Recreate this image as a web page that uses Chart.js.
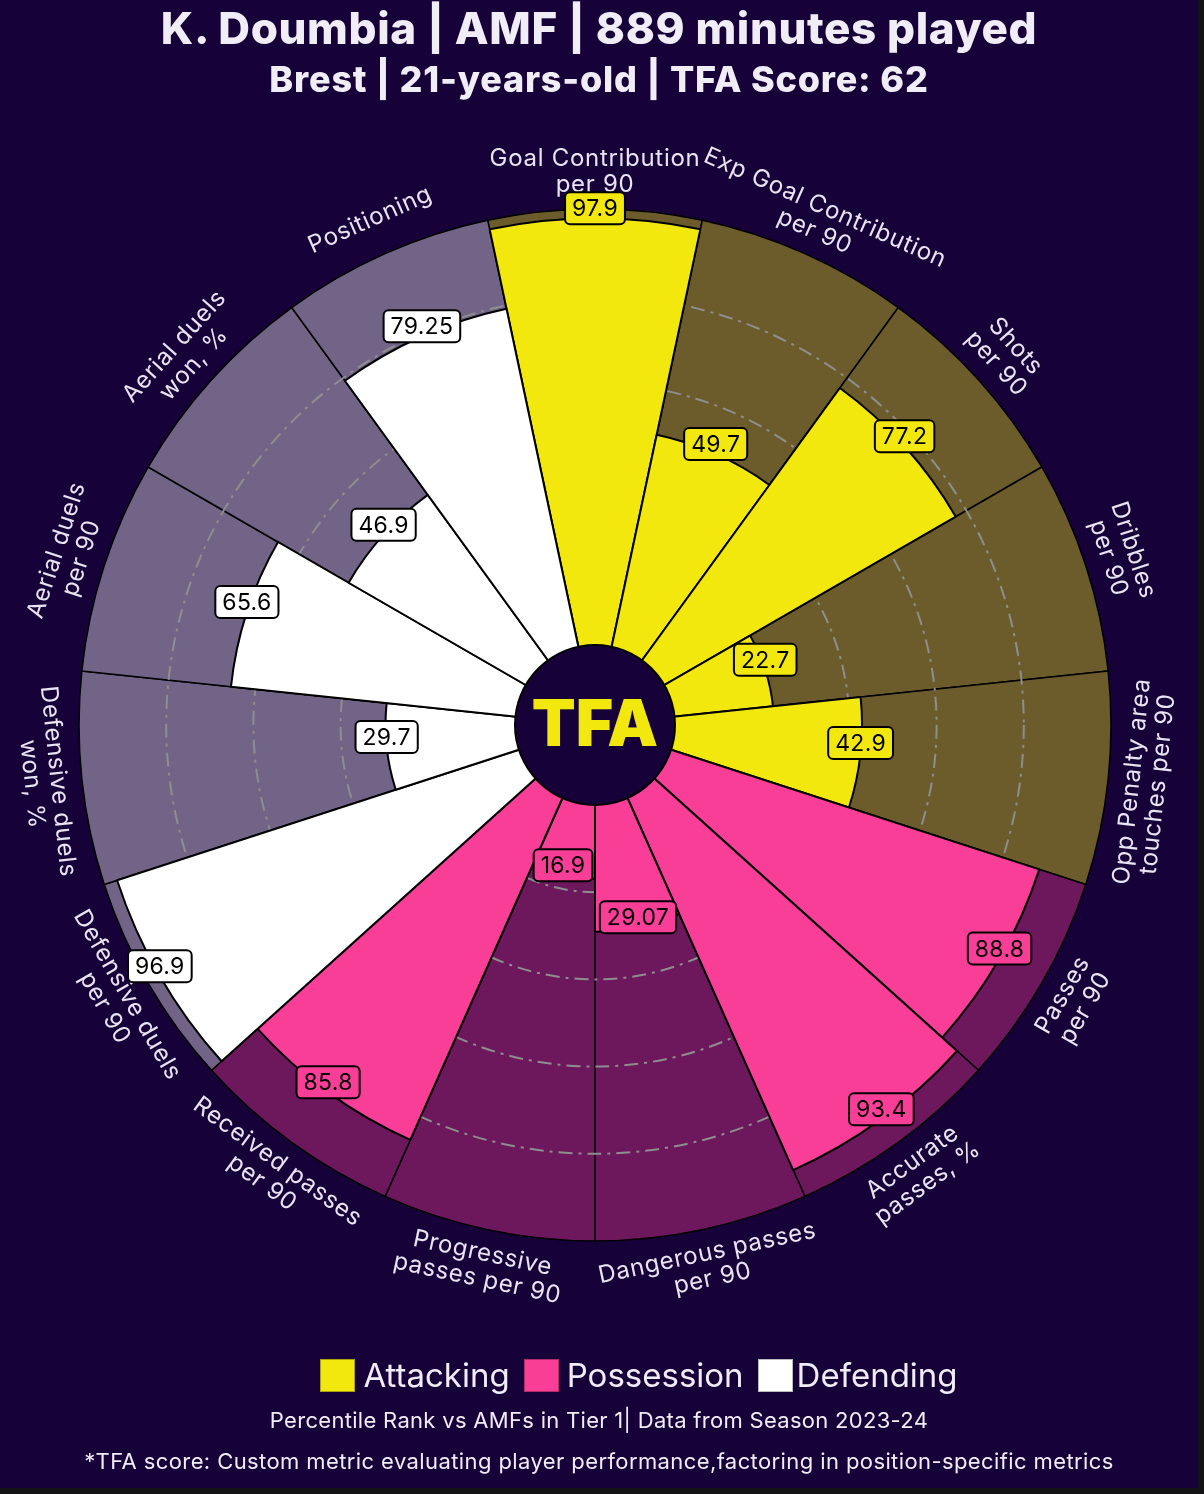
<!DOCTYPE html>
<html>
<head>
<meta charset="utf-8">
<script src="https://cdn.jsdelivr.net/npm/chart.js@4.4.1/dist/chart.umd.min.js"></script>
<style>
  body { margin: 0; background: #131316; }
  #page { position: relative; width: 1198px; height: 1488px; background: #170139; overflow: hidden;
          font-family: Inter, "Noto Sans", sans-serif; color: #f1edf6; }
  #pizza { position: absolute; left: 0; top: 0; }
  .t { position: absolute; left: 0; width: 1198px; text-align: center; white-space: nowrap; }
  #title1 { top: 0px; font-size: 44px; line-height: 56px; font-weight: 800; letter-spacing: 0.6px; }
  #title2 { top: 56px; font-size: 36px; line-height: 46px; font-weight: 800; letter-spacing: 0.8px; }
  #legend { top: 1354px; left: 33px; display: flex; justify-content: center; align-items: center; font-size: 33px; line-height: 42px; }
  #legend .sq { width: 35px; height: 33px; display: inline-block; margin: 0 8px 0 14px; box-sizing: border-box; }
  #foot1 { top: 1405px; font-size: 22px; line-height: 30px; letter-spacing: 0.3px; }
  #foot2 { top: 1446px; font-size: 22px; line-height: 30px; letter-spacing: 0.4px; }
</style>
</head>
<body>
<div id="page">
  <canvas id="pizza" width="1198" height="1488"></canvas>
  <div class="t" id="title1">K. Doumbia | AMF | 889 minutes played</div>
  <div class="t" id="title2">Brest | 21-years-old | TFA Score: 62</div>
  <div class="t" id="legend">
    <span class="sq" style="background:#f2e80d;border:1px solid #a9a20a"></span><span>Attacking</span>
    <span class="sq" style="background:#f93e98;border:1px solid #b02c6b"></span><span>Possession</span>
    <span class="sq" style="background:#ffffff;border:1px solid #bbbbbb;margin-right:4px"></span><span>Defending</span>
  </div>
  <div class="t" id="foot1">Percentile Rank vs AMFs in Tier 1| Data from Season 2023-24</div>
  <div class="t" id="foot2">*TFA score: Custom metric evaluating player performance,factoring in position-specific metrics</div>
</div>
<script>
// metric names, clockwise from the top
const params = [
  "Goal Contribution\nper 90",
  "Exp Goal Contribution\nper 90",
  "Shots\nper 90",
  "Dribbles\nper 90",
  "Opp Penalty area\ntouches per 90",
  "Passes\nper 90",
  "Accurate\npasses, %",
  "Dangerous passes\nper 90",
  "Progressive\npasses per 90",
  "Received passes\nper 90",
  "Defensive duels\nper 90",
  "Defensive duels\nwon, %",
  "Aerial duels\nper 90",
  "Aerial duels\nwon, %",
  "Positioning"
];
const percentiles = [97.9, 49.7, 77.2, 22.7, 42.9, 88.8, 93.4, 29.07, 16.9, 85.8, 96.9, 29.7, 65.6, 46.9, 79.25];
const groups = ["att", "att", "att", "att", "att", "pos", "pos", "pos", "pos", "pos", "def", "def", "def", "def", "def"];
const fullRange = params.map(() => 100);
const gridSteps = [20, 40, 60, 80];

const sliceColor = { att: "#f2e80d", pos: "#f93e98", def: "#ffffff" };
const backColor = { att: "#6c5b2b", pos: "#6d185c", def: "#726487" };
const pageBg = "#170139";

// inner hole of 80px on a 516px radius -> shift the scale minimum
const holeMin = -100 * 80 / 436;
const sliceDeg = 360 / params.length;

function labelRotation(deg) {
  if (deg > 90 && deg < 270) return deg - 180;
  if (deg >= 270) return deg - 360;
  return deg;
}

function roundBox(ctx, x, y, w, h, rad) {
  ctx.beginPath();
  ctx.moveTo(x + rad, y);
  ctx.arcTo(x + w, y, x + w, y + h, rad);
  ctx.arcTo(x + w, y + h, x, y + h, rad);
  ctx.arcTo(x, y + h, x, y, rad);
  ctx.arcTo(x, y, x + w, y, rad);
  ctx.closePath();
}

const pizzaDecor = {
  id: "pizzaDecor",
  afterDatasetDraw(chart, args) {
    // dash-dot rings sit on the background slices, under the value slices
    if (args.index !== 1) return;
    const r = chart.scales.r;
    const ctx = chart.ctx;
    ctx.save();
    ctx.strokeStyle = "#8e8e8e";
    ctx.lineWidth = 2;
    ctx.setLineDash([14, 6, 3, 6]);
    gridSteps.forEach(v => {
      ctx.beginPath();
      ctx.arc(r.xCenter, r.yCenter, r.getDistanceFromCenterForValue(v), 0, Math.PI * 2);
      ctx.stroke();
    });
    ctx.restore();
  },
  afterDatasetsDraw(chart) {
    const r = chart.scales.r;
    const ctx = chart.ctx;
    const cx = r.xCenter, cy = r.yCenter;
    const hole = r.getDistanceFromCenterForValue(0);
    ctx.save();

    // centre circle + logo
    ctx.beginPath();
    ctx.arc(cx, cy, hole, 0, Math.PI * 2);
    ctx.fillStyle = pageBg;
    ctx.fill();
    ctx.lineWidth = 2;
    ctx.strokeStyle = "#000";
    ctx.stroke();
    ctx.fillStyle = "#f2e80d";
    ctx.font = "900 64px Inter, sans-serif";
    ctx.textAlign = "center";
    ctx.textBaseline = "middle";
    ctx.fillText("TFA", cx, cy + 2);

    // outer metric labels
    const labelR = r.getDistanceFromCenterForValue(100) + 37;
    ctx.fillStyle = "#e9e4f1";
    ctx.font = "24px Inter, sans-serif";
    ctx.letterSpacing = "0.7px";
    params.forEach((p, i) => {
      const deg = i * sliceDeg;
      const a = deg * Math.PI / 180;
      const lines = p.split("\n");
      ctx.save();
      ctx.translate(cx + labelR * Math.sin(a), cy - labelR * Math.cos(a));
      ctx.rotate(labelRotation(deg) * Math.PI / 180);
      lines.forEach((ln, k) => {
        ctx.fillText(ln, 0, (k - (lines.length - 1) / 2) * 26);
      });
      ctx.restore();
    });

    // value boxes
    ctx.font = "23px Inter, sans-serif";
    ctx.letterSpacing = "0.3px";
    percentiles.forEach((v, i) => {
      const a = i * sliceDeg * Math.PI / 180;
      const d = r.getDistanceFromCenterForValue(v);
      const x = cx + d * Math.sin(a);
      const y = cy - d * Math.cos(a) - 10;
      const txt = String(v);
      const w = ctx.measureText(txt).width + 14;
      const h = 32;
      roundBox(ctx, x - w / 2, y - h / 2, w, h, 5);
      ctx.fillStyle = sliceColor[groups[i]];
      ctx.fill();
      ctx.lineWidth = 2;
      ctx.strokeStyle = "#000";
      ctx.stroke();
      ctx.fillStyle = "#000";
      ctx.fillText(txt, x, y + 1);
    });
    ctx.restore();
  }
};

new Chart(document.getElementById("pizza"), {
  type: "polarArea",
  data: {
    labels: params,
    datasets: [
      {
        data: percentiles,
        backgroundColor: groups.map(g => sliceColor[g]),
        borderColor: "#000",
        borderWidth: 2
      },
      {
        data: fullRange,
        backgroundColor: groups.map(g => backColor[g]),
        borderColor: "#000",
        borderWidth: 1.5
      }
    ]
  },
  options: {
    responsive: false,
    animation: false,
    layout: { padding: { left: 79, right: 87, top: 209, bottom: 247 } },
    plugins: { legend: { display: false }, tooltip: { enabled: false } },
    scales: {
      r: {
        min: holeMin,
        max: 100,
        startAngle: -sliceDeg / 2,
        ticks: { display: false },
        grid: { display: false },
        angleLines: { display: false },
        pointLabels: { display: false }
      }
    }
  },
  plugins: [pizzaDecor]
});
</script>
</body>
</html>
